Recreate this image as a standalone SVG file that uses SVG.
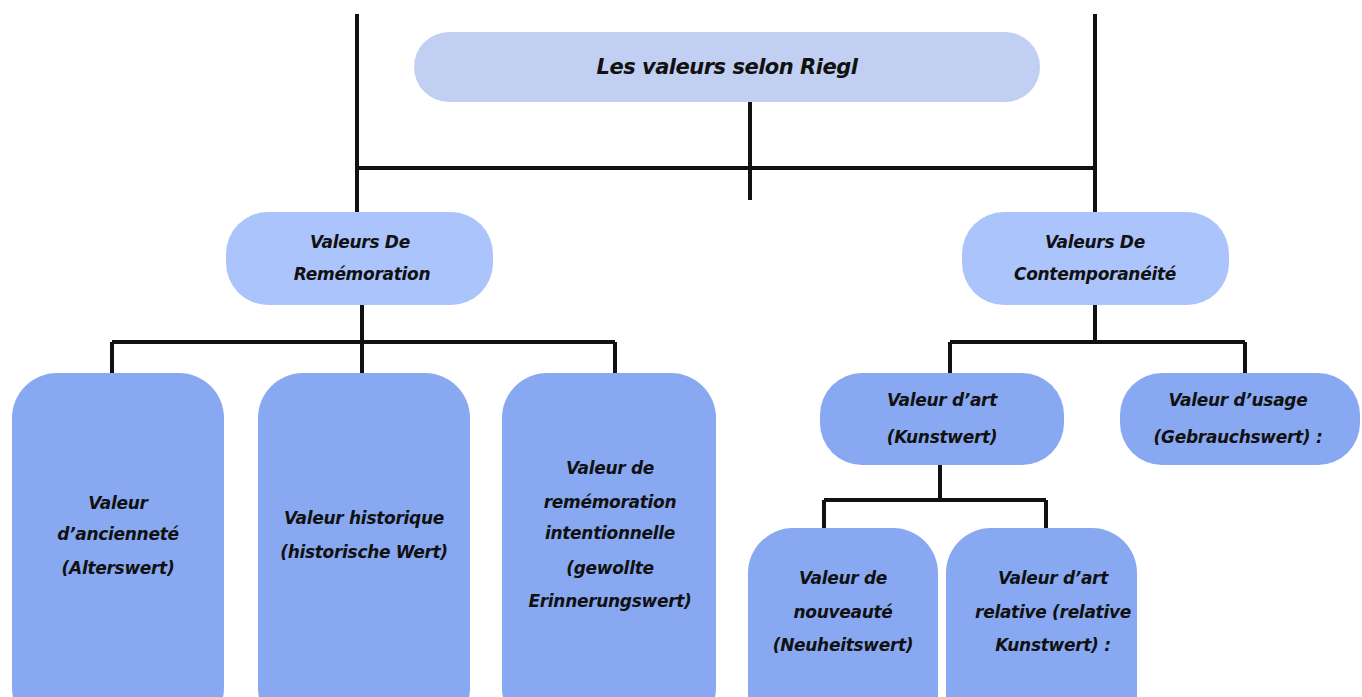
<svg xmlns="http://www.w3.org/2000/svg" width="1362" height="697" viewBox="0 0 1362 697">
<style>
.t{font-family:"DejaVu Sans","Liberation Sans",sans-serif;font-weight:bold;font-style:italic;font-size:17px;fill:#111;text-anchor:middle;letter-spacing:-0.3px}
.c{stroke:#111;stroke-width:4;fill:none}
.n0{fill:#c0cff2}
.n1{fill:#abc4fb}
.n2{fill:#88a9f2}
</style>
<rect width="1362" height="697" fill="#ffffff"/>
<g id="connectors">
<path class="c" d="M357 14V212M1095 14V212M357 168H1095M750 102V200"/>
<path class="c" d="M362 305V342M112 342H615M112 342V373M362 342V373M615 342V373"/>
<path class="c" d="M1095 305V342M950 342H1245M950 342V373M1245 342V373"/>
<path class="c" d="M940 465V500M824 500H1046M824 500V528M1046 500V528"/>
</g>
<g id="n-root"><rect class="n0" x="414" y="32" width="626" height="70" rx="35"/><text class="t" x="727" y="74" style="font-size:21px;letter-spacing:-0.5px">Les valeurs selon Riegl</text></g>
<g id="n-rem"><rect class="n1" x="226" y="212" width="267" height="93" rx="42"/><text class="t" x="360" y="248">Valeurs De</text><text class="t" x="362" y="280">Remémoration</text></g>
<g id="n-con"><rect class="n1" x="962" y="212" width="267" height="93" rx="42"/><text class="t" x="1095" y="248">Valeurs De</text><text class="t" x="1095" y="280">Contemporanéité</text></g>
<g id="n-anc"><rect class="n2" x="12" y="373" width="212" height="360" rx="45"/><text class="t" x="118" y="509">Valeur</text><text class="t" x="118" y="540">d’ancienneté</text><text class="t" x="118" y="574">(Alterswert)</text></g>
<g id="n-hist"><rect class="n2" x="258" y="373" width="212" height="360" rx="45"/><text class="t" x="364" y="524">Valeur historique</text><text class="t" x="364" y="558">(historische Wert)</text></g>
<g id="n-int"><rect class="n2" x="502" y="373" width="214" height="360" rx="45"/><text class="t" x="610" y="474">Valeur de</text><text class="t" x="610" y="508">remémoration</text><text class="t" x="610" y="539">intentionnelle</text><text class="t" x="610" y="574">(gewollte</text><text class="t" x="610" y="607">Erinnerungswert)</text></g>
<g id="n-art"><rect class="n2" x="820" y="373" width="244" height="92" rx="42"/><text class="t" x="942" y="406">Valeur d’art</text><text class="t" x="942" y="443">(Kunstwert)</text></g>
<g id="n-usage"><rect class="n2" x="1120" y="373" width="240" height="92" rx="42"/><text class="t" x="1238" y="406">Valeur d’usage</text><text class="t" x="1238" y="443">(Gebrauchswert) :</text></g>
<g id="n-nouv"><rect class="n2" x="748" y="528" width="190" height="220" rx="45"/><text class="t" x="843" y="584">Valeur de</text><text class="t" x="843" y="618">nouveauté</text><text class="t" x="843" y="651">(Neuheitswert)</text></g>
<g id="n-rel"><rect class="n2" x="946" y="528" width="191" height="220" rx="45"/><text class="t" x="1053" y="584">Valeur d’art</text><text class="t" x="1053" y="618">relative (relative</text><text class="t" x="1053" y="651">Kunstwert) :</text></g>
</svg>
